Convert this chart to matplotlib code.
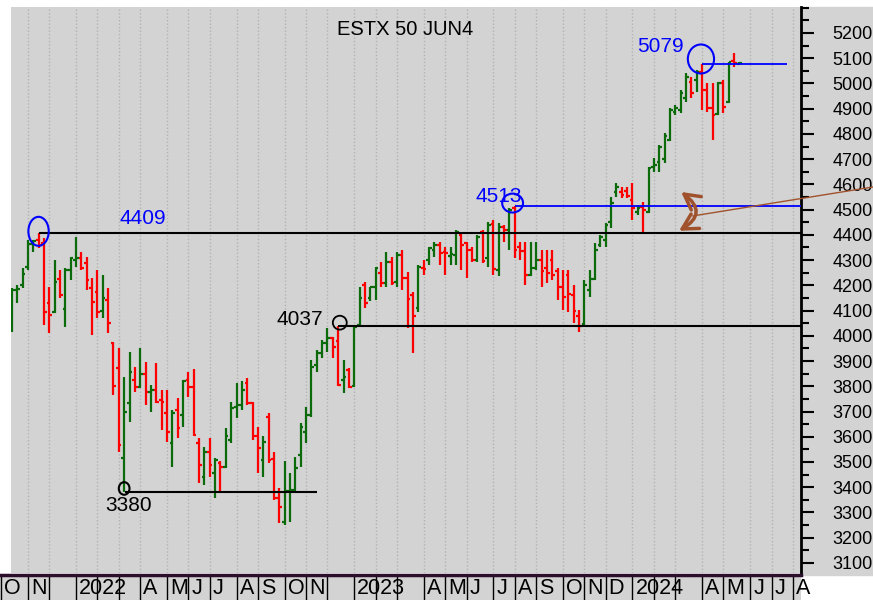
import numpy as np
import pandas as pd
import matplotlib
matplotlib.use('Agg')
from matplotlib import pyplot as plt
from matplotlib.patches import Ellipse, Rectangle, FancyArrowPatch

plt.rcParams['font.family'] = ['Liberation Sans', 'DejaVu Sans']

# weekly bars, first bar is the week of 11 Oct 2021
first_week = '2021-10-11'
opens = [4054, 4182, 4201, 4274, 4365, 4380, 4367, 4129, 4096, 4225,
         4106, 4261, 4301, 4307, 4287, 4188, 4175, 4099, 4140, 3970,
         3871, 3515, 3733, 3825, 3799, 3848, 3779, 3786, 3746, 3693,
         3574, 3706, 3686, 3825, 3799, 3574, 3442, 3541, 3455, 3495,
         3482, 3587, 3719, 3726, 3812, 3733, 3601, 3508, 3680, 3511,
         3356, 3264, 3383, 3389, 3528, 3620, 3686, 3884, 3931, 3970,
         3990, 3980, 3825, 3865, 3801, 4043, 4200, 4149, 4192, 4250,
         4211, 4291, 4215, 4320, 4228, 4160, 4109, 4268, 4301, 4340,
         4360, 4334, 4318, 4320, 4400, 4367, 4340, 4300, 4410, 4307,
         4445, 4261, 4433, 4420, 4505, 4350, 4335, 4241, 4268, 4300,
         4270, 4300, 4255, 4195, 4240, 4160, 4080, 4045, 4180, 4225,
         4360, 4380, 4450, 4570, 4570, 4572, 4540, 4490, 4510, 4492,
         4670, 4690, 4700, 4776, 4888, 4895, 4941, 5007, 5014, 5047,
         4974, 4901, 4880, 5000, 4928, 5090, 5076]
highs = [4188, 4201, 4268, 4380, 4380, 4409, 4386, 4195, 4301, 4261,
         4268, 4314, 4393, 4334, 4314, 4231, 4261, 4241, 4188, 3977,
         3951, 3838, 3937, 3878, 3951, 3898, 3805, 3891, 3786, 3786,
         3706, 3753, 3825, 3858, 3867, 3594, 3561, 3594, 3515, 3502,
         3634, 3739, 3812, 3819, 3832, 3739, 3640, 3601, 3693, 3541,
         3396, 3502, 3455, 3521, 3653, 3719, 3904, 3944, 3984, 4030,
         3994, 4037, 3904, 3871, 4040, 4195, 4215, 4195, 4274, 4294,
         4334, 4314, 4334, 4340, 4254, 4175, 4281, 4301, 4353, 4373,
         4373, 4353, 4353, 4419, 4413, 4373, 4353, 4400, 4419, 4452,
         4459, 4446, 4439, 4505, 4513, 4373, 4373, 4373, 4373, 4340,
         4340, 4340, 4268, 4261, 4261, 4202, 4102, 4221, 4261, 4367,
         4400, 4446, 4552, 4604, 4591, 4591, 4604, 4518, 4532, 4670,
         4703, 4756, 4802, 4901, 4915, 4974, 5040, 5027, 5053, 5079,
         5001, 5001, 5007, 5014, 5085, 5120, 5086]
lows = [4017, 4129, 4190, 4261, 4334, 4347, 4043, 4010, 4089, 4149,
        4036, 4221, 4274, 4261, 4182, 4003, 4069, 4069, 4010, 3766,
        3541, 3380, 3660, 3779, 3795, 3726, 3700, 3733, 3627, 3581,
        3482, 3594, 3640, 3759, 3603, 3416, 3409, 3442, 3356, 3376,
        3478, 3574, 3673, 3706, 3726, 3587, 3455, 3442, 3495, 3350,
        3257, 3251, 3264, 3376, 3482, 3574, 3680, 3858, 3911, 3937,
        3911, 3801, 3772, 3792, 3798, 4040, 4109, 4136, 4142, 4195,
        4195, 4202, 4195, 4182, 4030, 3931, 4096, 4241, 4281, 4314,
        4281, 4241, 4281, 4281, 4261, 4228, 4294, 4294, 4287, 4274,
        4241, 4235, 4373, 4340, 4307, 4301, 4202, 4235, 4262, 4195,
        4208, 4221, 4142, 4102, 4096, 4050, 4017, 4036, 4155, 4221,
        4353, 4353, 4426, 4552, 4545, 4545, 4459, 4479, 4405, 4485,
        4650, 4650, 4683, 4770, 4875, 4882, 4928, 4941, 4967, 4895,
        4888, 4776, 4875, 4882, 4921, 5067, 5073]
closes = [4182, 4186, 4245, 4363, 4376, 4360, 4093, 4083, 4212, 4162,
          4261, 4307, 4307, 4268, 4221, 4135, 4096, 4149, 4050, 3800,
          3568, 3700, 3858, 3799, 3848, 3779, 3786, 3739, 3739, 3620,
          3693, 3634, 3819, 3799, 3607, 3488, 3541, 3488, 3508, 3482,
          3601, 3713, 3726, 3786, 3735, 3601, 3554, 3581, 3508, 3356,
          3323, 3383, 3389, 3475, 3640, 3686, 3878, 3931, 3970, 3990,
          3957, 3805, 3836, 3796, 4036, 4150, 4131, 4192, 4268, 4211,
          4291, 4211, 4320, 4228, 4145, 4079, 4274, 4264, 4347, 4360,
          4330, 4330, 4325, 4413, 4360, 4340, 4300, 4390, 4298, 4440,
          4264, 4433, 4420, 4499, 4340, 4335, 4241, 4268, 4301, 4255,
          4250, 4240, 4195, 4155, 4165, 4100, 4040, 4200, 4225, 4340,
          4390, 4440, 4527, 4590, 4558, 4555, 4505, 4505, 4498, 4664,
          4677, 4750, 4790, 4895, 4902, 4961, 5027, 4961, 5047, 4974,
          4901, 4875, 5000, 4908, 5086, 5080, 5082]

month_labels = ['O', 'N', '', '2022', '', '', 'A', 'M', 'J', 'J', 'A', 'S',
                'O', 'N', '', '2023', '', '', 'A', 'M', 'J', 'J', 'A', 'S',
                'O', 'N', 'D', '2024', '', '', 'A', 'M', 'J', 'J', 'A']

high_2021 = 4409
high_2023 = 4513
high_2024 = 5079
low_2022 = 3380
support = 4037

BG = '#d3d3d3'
GREEN = '#0b6b0b'
RED = '#ff0000'
BLUE = '#0000ff'
BROWN = '#a0522d'
W, H = 873, 600

o = np.array(opens)
h = np.array(highs)
l = np.array(lows)
c = np.array(closes)
weeks = np.arange(1, len(o) + 1)
colors = np.where(c >= o, GREEN, RED)

# month separators: week holding the first trading day of each month
start = pd.Timestamp(first_week)
month_pos = []
for m in pd.date_range('2021-10-01', '2024-08-01', freq='MS'):
    d = m
    while d.weekday() > 4:
        d += pd.Timedelta(days=1)
    monday = d - pd.Timedelta(days=d.weekday())
    month_pos.append(1 + (monday - start).days / 7)

fig = plt.figure(figsize=(W / 100, H / 100), dpi=100)
fig.add_artist(Rectangle((801 / W, 25 / H), 72 / W, 568 / H,
                         transform=fig.transFigure, color=BG, zorder=-5))

ax = fig.add_axes([11 / W, 27 / H, 790 / W, 566 / H])
ax.set_facecolor(BG)

ax.set_xticks(month_pos)
ax.tick_params(axis='x', length=0, labelbottom=False)
ax.grid(axis='x', color='#b3b3b3', linestyle=(0, (1, 1.5)), lw=1)
ax.set_xlim(0.85, 148.5)
ax.set_ylim(3060, 5303)

ax.yaxis.tick_right()
ax.set_yticks(range(3100, 5201, 100))
ax.set_yticks(range(3050, 5301, 50), minor=True)
ax.set_ylim(3060, 5303)
ax.tick_params(axis='y', which='major', length=9.5, width=1.5, pad=13, labelsize=13)
ax.tick_params(axis='y', which='minor', length=6, width=1.5)
for s in ['top', 'left', 'bottom']:
    ax.spines[s].set_visible(False)
ax.spines['right'].set_linewidth(2)

# OHLC bars
ax.vlines(weeks, l, h, colors=colors, lw=1.6, zorder=3)
ax.hlines(o, weeks - 0.5, weeks, colors=colors, lw=1.6, zorder=3)
ax.hlines(c, weeks, weeks + 0.5, colors=colors, lw=1.6, zorder=3)

x_end = ax.get_xlim()[1]
ax.hlines(high_2021, 6, x_end, color='black', lw=1.5, zorder=4)
ax.hlines(support, 62, x_end, color='black', lw=1.5, zorder=4)
ax.hlines(low_2022, 22.2, 58, color='black', lw=1.5, zorder=4)
ax.hlines(high_2023, 95, x_end, color=BLUE, lw=1.3, zorder=4)
ax.hlines(high_2024, 130, 145.9, color=BLUE, lw=1.3, zorder=4)

ax.add_patch(Ellipse((6, 4414), 3.8, 115, fill=False, ec=BLUE, lw=1.5, zorder=5))
ax.add_patch(Ellipse((94.6, 4526), 3.9, 75, fill=False, ec=BLUE, lw=1.5, zorder=5))
ax.add_patch(Ellipse((129.8, 5097), 4.9, 115, fill=False, ec=BLUE, lw=1.5, zorder=5))
ax.add_patch(Ellipse((62.3, 4052), 2.6, 55, fill=False, ec='black', lw=1.3, zorder=5))
ax.add_patch(Ellipse((22, 3395), 2.0, 50, fill=False, ec='black', lw=1.5, zorder=5))

ax.text(25.4, 4465, f'{high_2021}', color=BLUE, fontsize=15, ha='center', va='center')
ax.text(92.1, 4554, f'{high_2023}', color=BLUE, fontsize=15, ha='center', va='center')
ax.text(122.2, 5148, f'{high_2024}', color=BLUE, fontsize=15, ha='center', va='center')
ax.text(54.9, 4065, f'{support}', color='black', fontsize=15, ha='center', va='center')
ax.text(22.9, 3328, f'{low_2022}', color='black', fontsize=15, ha='center', va='center')
ax.text(0.499, 0.961, 'ESTX 50 JUN4', transform=ax.transAxes, fontsize=14.5,
        ha='center', va='center')

ax.plot([128.3, 162], [4475, 4590], color=BROWN, lw=1, clip_on=False, zorder=6)
ax.add_patch(FancyArrowPatch((126.1, 4570), (125.7, 4416),
                             arrowstyle='<->,head_length=1.1,head_width=0.6',
                             mutation_scale=10, connectionstyle='arc3,rad=-0.75',
                             color=BROWN, lw=2.5, shrinkA=0, shrinkB=0, zorder=6))

# month band under the chart
band = fig.add_axes([0, 0, 801 / W, 25 / H])
x0, x1 = ax.get_xlim()
scale = (x1 - x0) / 790
band.set_xlim(x0 - 11 * scale, x1)
band.set_ylim(0, 1)
band.set_facecolor(BG)
band.set_xticks([])
band.set_yticks([])
for s in ['left', 'right', 'bottom']:
    band.spines[s].set_visible(False)
band.spines['top'].set_linewidth(2.5)
band.spines['top'].set_color('#2b0f2b')
for pos, lab in zip(month_pos, month_labels):
    band.axvline(pos, color='black', lw=1)
    band.text(pos + 3 * scale, 0.02, lab, fontsize=15.5, ha='left', va='bottom')

fig.savefig('out.png', dpi=100)
plt.close()
